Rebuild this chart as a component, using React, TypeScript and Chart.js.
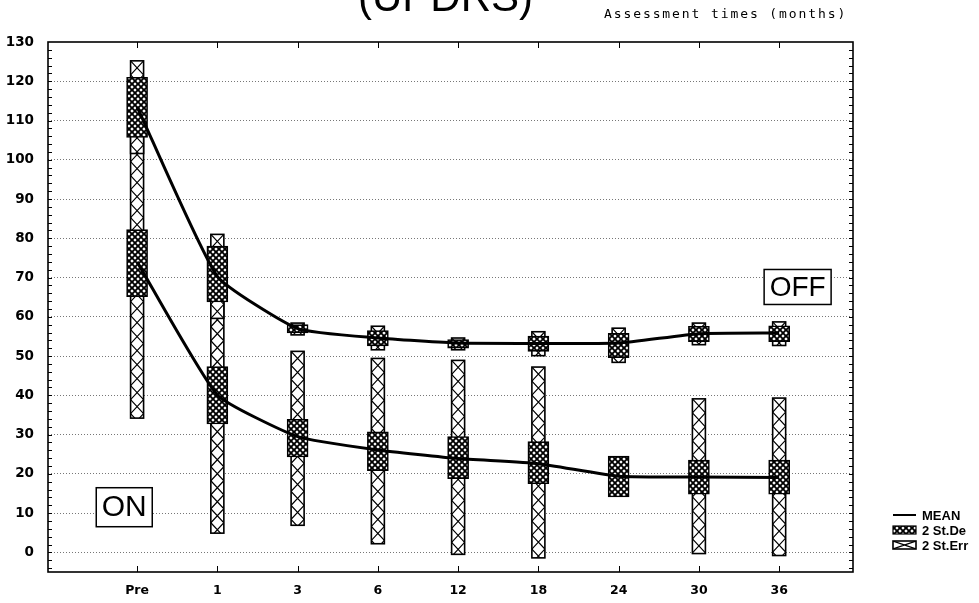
import React, { useEffect, useRef } from 'react';
import { Chart, registerables } from 'chart.js';

Chart.register(...registerables);

// ---------- data ----------
const categories = ['Pre', '1', '3', '6', '12', '18', '24', '30', '36'];
const yTickValues = [0, 10, 20, 30, 40, 50, 60, 70, 80, 90, 100, 110, 120, 130];

// OFF condition
const offMean = [113.5, 70.3, 57.0, 54.6, 53.3, 53.2, 53.3, 55.7, 55.9];
const offSdLow = [105.7, 63.8, 55.9, 52.6, 52.0, 51.2, 49.6, 53.7, 53.7];
const offSdHigh = [121.0, 78.0, 58.0, 56.5, 54.2, 55.1, 55.8, 57.6, 57.7];
const offErrLow = [101.6, 59.6, 55.4, 51.6, 51.6, 50.1, 48.4, 52.9, 52.7];
const offErrHigh = [125.2, 81.0, 58.4, 57.6, 54.6, 56.2, 57.1, 58.4, 58.7];

// ON condition
const onMean = [74.0, 40.1, 29.5, 26.1, 23.9, 22.6, 19.4, 19.2, 19.1];
const onSdLow = [65.1, 32.7, 24.3, 20.8, 18.8, 17.5, 14.1, 14.8, 14.8];
const onSdHigh = [82.2, 47.3, 33.9, 30.7, 29.5, 28.2, 24.5, 23.5, 23.5];
const onErrLow = [34.2, 4.9, 6.9, 2.2, -0.5, -1.4, null, -0.3, -0.8];
const onErrHigh = [113.8, 75.3, 51.2, 49.4, 48.9, 47.2, null, 39.1, 39.3];

const stateLabels = ['ON', 'OFF'];
const stateLabelX = [-0.16, 8.23];
const stateLabelY = [11.5, 67.6];

const legendLabels = ['MEAN', '2 St.De', '2 St.Err'];
const titleText = '(UPDRS)';
const axisNote = 'Assessment times (months)';

// ---------- helpers ----------
const toPoints = (vals: (number | null)[]) =>
  vals.map((v, i) => ({ x: i, y: v })).filter((p) => p.y !== null);

const toRanges = (lo: (number | null)[], hi: (number | null)[]) =>
  lo
    .map((l, i) => (l === null || hi[i] === null ? null : { x: i, y: [l, hi[i]] }))
    .filter((p) => p !== null);

function makeDense(ctx: CanvasRenderingContext2D): CanvasPattern | string {
  const s = 6;
  const c = document.createElement('canvas');
  c.width = s;
  c.height = s;
  const g = c.getContext('2d');
  if (!g) return '#777';
  g.fillStyle = '#fff';
  g.fillRect(0, 0, s, s);
  g.strokeStyle = '#000';
  g.lineWidth = 1.9;
  g.beginPath();
  g.moveTo(-1, -1);
  g.lineTo(s + 1, s + 1);
  g.moveTo(s + 1, -1);
  g.lineTo(-1, s + 1);
  g.stroke();
  return ctx.createPattern(c, 'repeat') || '#777';
}

function drawXHatch(ctx: CanvasRenderingContext2D, l: number, t: number, r: number, b: number, cell: number) {
  ctx.save();
  ctx.fillStyle = '#fff';
  ctx.fillRect(l, t, r - l, b - t);
  ctx.beginPath();
  ctx.rect(l, t, r - l, b - t);
  ctx.clip();
  ctx.strokeStyle = '#000';
  ctx.lineWidth = 1.2;
  ctx.beginPath();
  for (let y0 = t; y0 < b; y0 += cell) {
    ctx.moveTo(l, y0);
    ctx.lineTo(r, y0 + cell);
    ctx.moveTo(r, y0);
    ctx.lineTo(l, y0 + cell);
  }
  ctx.stroke();
  ctx.restore();
  ctx.save();
  ctx.strokeStyle = '#000';
  ctx.lineWidth = 1.6;
  ctx.strokeRect(l, t, r - l, b - t);
  ctx.restore();
}

const hatchPlugin = {
  id: 'hatchX',
  afterDatasetDraw(chart: any, args: any) {
    const ds = chart.data.datasets[args.index];
    if (!ds.hatchX) return;
    const ctx = chart.ctx;
    args.meta.data.forEach((el: any) => {
      const p = el.getProps(['x', 'y', 'base', 'width'], true);
      const l = p.x - p.width / 2;
      const r = p.x + p.width / 2;
      const t = Math.min(p.y, p.base);
      const b = Math.max(p.y, p.base);
      drawXHatch(ctx, l, t, r, b, 14);
    });
  },
};

const decorPlugin = {
  id: 'decor',
  afterDraw(chart: any) {
    const ctx: CanvasRenderingContext2D = chart.ctx;
    const { left, right, top, bottom } = chart.chartArea;
    const xs = chart.scales.x;
    const ys = chart.scales.y;

    // frame
    ctx.save();
    ctx.strokeStyle = '#000';
    ctx.lineWidth = 1.6;
    ctx.strokeRect(left, top, right - left, bottom - top);
    ctx.lineWidth = 1;
    ctx.beginPath();
    for (let v = -4; v <= 128; v += 2) {
      const y = Math.round(ys.getPixelForValue(v)) + 0.5;
      ctx.moveTo(left, y);
      ctx.lineTo(left + 4, y);
      ctx.moveTo(right, y);
      ctx.lineTo(right - 4, y);
    }
    categories.forEach((_, i) => {
      const x = Math.round(xs.getPixelForValue(i)) + 0.5;
      ctx.moveTo(x, bottom);
      ctx.lineTo(x, bottom - 6);
      ctx.moveTo(x, top);
      ctx.lineTo(x, top + 6);
    });
    ctx.stroke();
    ctx.restore();

    // ON / OFF labels
    const sizes = [30, 28];
    const heights = [39, 35];
    stateLabels.forEach((txt, i) => {
      const cx = xs.getPixelForValue(stateLabelX[i]);
      const cy = ys.getPixelForValue(stateLabelY[i]);
      ctx.save();
      ctx.font = `${sizes[i]}px "Liberation Sans", Arial, sans-serif`;
      const w = ctx.measureText(txt).width + 11;
      const h = heights[i];
      ctx.fillStyle = '#fff';
      ctx.fillRect(cx - w / 2, cy - h / 2, w, h);
      ctx.strokeStyle = '#000';
      ctx.lineWidth = 1.5;
      ctx.strokeRect(cx - w / 2, cy - h / 2, w, h);
      ctx.fillStyle = '#000';
      ctx.textAlign = 'center';
      ctx.textBaseline = 'middle';
      ctx.fillText(txt, cx, cy + 1);
      ctx.restore();
    });

    // clipped title and axis note
    ctx.save();
    ctx.fillStyle = '#000';
    ctx.font = '42px "Liberation Sans", Arial, sans-serif';
    ctx.textAlign = 'center';
    ctx.textBaseline = 'alphabetic';
    ctx.fillText(titleText, (left + right) / 2 - 5, 11);
    ctx.font = '13px "DejaVu Sans Mono", monospace';
    (ctx as any).letterSpacing = '1.9px';
    ctx.textAlign = 'left';
    ctx.textBaseline = 'middle';
    ctx.fillText(axisNote, 604, 15);
    ctx.restore();

    // legend
    const lx = 893;
    const lw = 23;
    const rows = [515, 530, 545];
    ctx.save();
    ctx.strokeStyle = '#000';
    ctx.lineWidth = 2;
    ctx.beginPath();
    ctx.moveTo(lx, rows[0]);
    ctx.lineTo(lx + lw, rows[0]);
    ctx.stroke();
    ctx.fillStyle = makeDense(ctx) as any;
    ctx.fillRect(lx, rows[1] - 4, lw, 8);
    ctx.lineWidth = 1.2;
    ctx.strokeRect(lx, rows[1] - 4, lw, 8);
    ctx.restore();
    drawXHatch(ctx, lx, rows[2] - 4, lx + lw, rows[2] + 4, 8);
    ctx.save();
    ctx.fillStyle = '#000';
    ctx.font = 'bold 13px "Liberation Sans", Arial, sans-serif';
    ctx.textAlign = 'left';
    ctx.textBaseline = 'middle';
    legendLabels.forEach((t, i) => ctx.fillText(t, lx + lw + 6, rows[i] + 1));
    ctx.restore();
  },
};

export default function App() {
  const ref = useRef<HTMLCanvasElement | null>(null);

  useEffect(() => {
    document.body.style.margin = '0';
    const canvas = ref.current;
    if (!canvas) return;
    const ctx = canvas.getContext('2d');
    if (!ctx) return;
    const dense = makeDense(ctx);

    const errStyle = {
      type: 'bar' as const,
      backgroundColor: '#fff',
      borderColor: '#000',
      borderWidth: 1.5,
      borderSkipped: false,
      barThickness: 13,
      grouped: false,
      hatchX: true,
      order: 3,
    };
    const sdStyle = {
      type: 'bar' as const,
      backgroundColor: dense,
      borderColor: '#000',
      borderWidth: 1.6,
      borderSkipped: false,
      barThickness: 21,
      grouped: false,
      order: 2,
    };
    const meanStyle = {
      type: 'line' as const,
      borderColor: '#000',
      borderWidth: 3,
      pointRadius: 0,
      fill: false,
      tension: 0.15,
      order: 0,
    };

    const chart = new Chart(ctx, {
      type: 'bar',
      data: {
        datasets: [
          { ...errStyle, label: 'OFF 2 St.Err', data: toRanges(offErrLow, offErrHigh) },
          { ...errStyle, label: 'ON 2 St.Err', data: toRanges(onErrLow, onErrHigh) },
          { ...sdStyle, label: 'OFF 2 St.De', data: toRanges(offSdLow, offSdHigh) },
          { ...sdStyle, label: 'ON 2 St.De', data: toRanges(onSdLow, onSdHigh) },
          { ...meanStyle, label: 'OFF MEAN', data: toPoints(offMean) },
          { ...meanStyle, label: 'ON MEAN', data: toPoints(onMean) },
        ] as any,
      },
      options: {
        responsive: false,
        animation: false,
        devicePixelRatio: 1,
        events: [],
        layout: { padding: { top: 42, right: 126, left: 0, bottom: 0 } },
        plugins: {
          legend: { display: false },
          tooltip: { enabled: false },
          title: { display: false },
        },
        scales: {
          x: {
            type: 'linear',
            min: -1.11,
            max: 8.92,
            offset: false,
            afterBuildTicks: (s: any) => {
              s.ticks = categories.map((_, i) => ({ value: i }));
            },
            afterFit: (s: any) => {
              s.height = 31;
            },
            ticks: {
              autoSkip: false,
              maxRotation: 0,
              padding: 11,
              color: '#000',
              font: { family: '"DejaVu Sans", sans-serif', weight: 'bold', size: 12.5 },
              callback: (_v: any, i: number) => categories[i],
            },
            grid: { display: false, drawTicks: false },
            border: { display: false },
          },
          y: {
            type: 'linear',
            min: -5,
            max: 130,
            afterBuildTicks: (s: any) => {
              s.ticks = yTickValues.map((v) => ({ value: v }));
            },
            afterFit: (s: any) => {
              s.width = 48;
            },
            ticks: {
              padding: 14,
              color: '#000',
              font: { family: '"DejaVu Sans", sans-serif', weight: 'bold', size: 13.5 },
              callback: (v: any) => String(v),
            },
            grid: {
              drawTicks: false,
              lineWidth: 1,
              color: (c: any) => (c.tick && c.tick.value === 130 ? 'rgba(0,0,0,0)' : '#777'),
            },
            border: { display: false, dash: [1, 2] },
          },
        },
      } as any,
      plugins: [hatchPlugin, decorPlugin],
    });

    return () => chart.destroy();
  }, []);

  return (
    <div style={{ width: 979, height: 603, background: '#fff' }}>
      <canvas ref={ref} width={979} height={603} style={{ display: 'block' }} />
    </div>
  );
}
